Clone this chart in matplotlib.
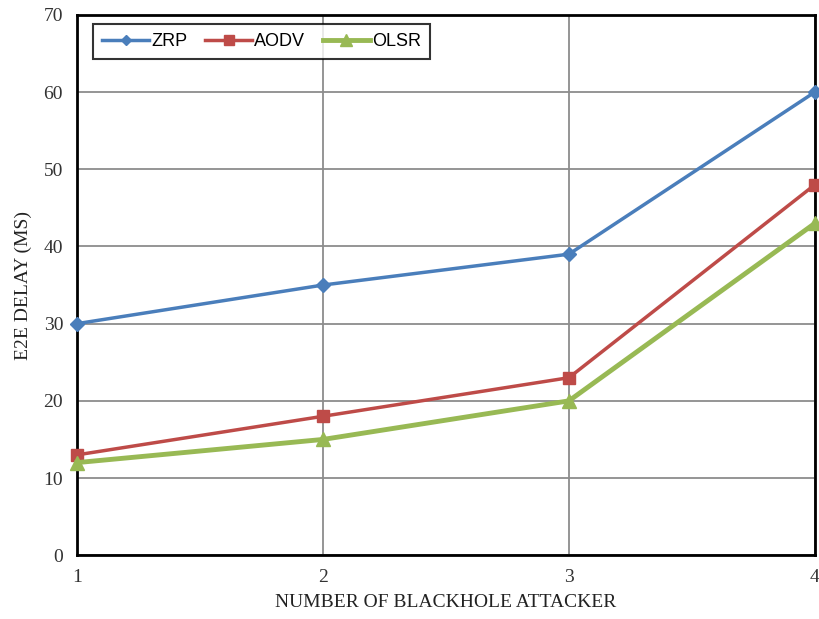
import matplotlib
matplotlib.use('Agg')
import matplotlib.pyplot as plt

# attackers on x, end-to-end delay on y
attackers = [1, 2, 3, 4]
zrp = [30, 35, 39, 60]
aodv = [13, 18, 23, 48]
olsr = [12, 15, 20, 43]
yticks = [0, 10, 20, 30, 40, 50, 60, 70]

fig = plt.figure(figsize=(8.19, 6.19), dpi=100)
ax = fig.add_axes([0.094, 0.103, 0.901, 0.873])

ax.plot(attackers, zrp, color='#4a7ebb', lw=2.5, marker='D', ms=7, label='ZRP', clip_on=False, zorder=5)
ax.plot(attackers, aodv, color='#be4b48', lw=2.5, marker='s', ms=9, label='AODV', clip_on=False, zorder=5)
ax.plot(attackers, olsr, color='#98b954', lw=3.5, marker='^', ms=10, label='OLSR', clip_on=False, zorder=5)

ax.set_xlim(1, 4)
ax.set_ylim(0, 70)
ax.set_xticks(attackers)
ax.set_yticks(yticks)
ax.grid(True, color='#8c8c8c', lw=1.3)
ax.set_axisbelow(True)
for s in ax.spines.values():
    s.set_linewidth(2)
    s.set_color('black')
ax.tick_params(length=0, pad=10, labelsize=14)
for lab in ax.get_xticklabels() + ax.get_yticklabels():
    lab.set_fontfamily('Liberation Serif')
    lab.set_color('#333333')

ax.set_xlabel('NUMBER OF BLACKHOLE ATTACKER', fontsize=14, family='Liberation Serif', labelpad=6, color='#222222')
ax.set_ylabel('E2E DELAY (MS)', fontsize=14, family='Liberation Serif', labelpad=8, color='#222222')

leg = ax.legend(loc='upper left', bbox_to_anchor=(0.022, 0.983), borderaxespad=0, ncol=3, frameon=True,
                fancybox=False, edgecolor='black', prop={'family': 'Liberation Sans', 'size': 13},
                handlelength=2.6, columnspacing=1.0, handletextpad=0.1, borderpad=0.5, markerscale=0.8)
leg.get_frame().set_linewidth(1.5)

fig.savefig('out.png', dpi=100)
